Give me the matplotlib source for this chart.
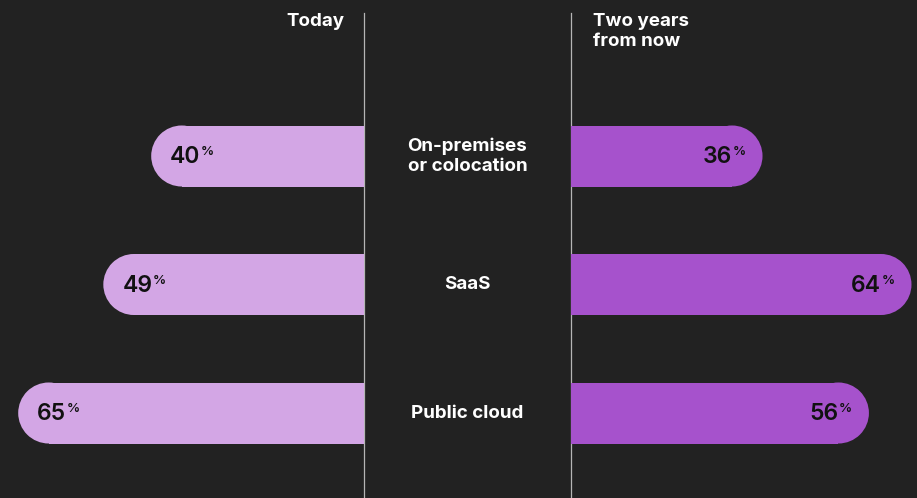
import matplotlib

matplotlib.use("Agg")
import matplotlib.pyplot as plt
from matplotlib.patches import Circle, Rectangle

categories = ["On-premises\nor colocation", "SaaS", "Public cloud"]
today = [40, 49, 65]
two_years = [36, 64, 56]
head_left = "Today"
head_right = "Two years\nfrom now"

BG = "#222222"
C_LEFT = "#d3a6e5"
C_RIGHT = "#a652cc"
FONT = ["Inter", "DejaVu Sans"]

W, H = 917, 498
LEFT_X, RIGHT_X = 364, 571
PX_PER_PCT = 5.32
ROW0, ROW_STEP = 156, 128.5
BAR_H = 61

fig = plt.figure(figsize=(W / 100, H / 100), dpi=100, facecolor=BG)
ax = fig.add_axes([0, 0, 1, 1])
ax.set_facecolor(BG)
ax.set_xlim(0, W)
ax.set_ylim(H, 0)
ax.axis("off")

ax.plot([LEFT_X, LEFT_X], [13, H], color="#b5b5b5", lw=0.9, zorder=1)
ax.plot([RIGHT_X, RIGHT_X], [13, H], color="#b5b5b5", lw=0.9, zorder=1)

ax.text(LEFT_X - 20, 13, head_left, ha="right", va="top", color="white",
        fontsize=13.5, fontweight="bold", family=FONT)
ax.text(RIGHT_X + 22, 13, head_right, ha="left", va="top", color="white",
        fontsize=13.5, fontweight="bold", family=FONT, linespacing=1.2)


def pct_label(x, cy, value, side):
    style = dict(color="#111111", fontweight="semibold", family=FONT, zorder=4)
    if side == "left":
        num = ax.text(x, cy + 1, str(value), ha="left", va="center", fontsize=16.5, **style)
        ax.annotate("%", xy=(1, 0), xycoords=(num, "data"), xytext=(0.3, cy - 4),
                    textcoords=("offset points", "data"), ha="left", va="center",
                    fontsize=9.5, **style)
    else:
        pct = ax.text(x, cy - 4, "%", ha="right", va="center", fontsize=9.5, **style)
        ax.annotate(str(value), xy=(0, cy + 1), xycoords=(pct, "data"), xytext=(-0.3, 0),
                    textcoords="offset points", ha="right", va="center",
                    fontsize=16.5, **style)


r = BAR_H / 2
for i, (cat, a, b) in enumerate(zip(categories, today, two_years)):
    cy = ROW0 + i * ROW_STEP
    # left bar (today), rounded on its outer end
    end_l = LEFT_X - a * PX_PER_PCT
    ax.add_patch(Rectangle((end_l + r, cy - r), LEFT_X - end_l - r, BAR_H,
                           facecolor=C_LEFT, edgecolor="none", zorder=2))
    ax.add_patch(Circle((end_l + r, cy), r, facecolor=C_LEFT, edgecolor="none", zorder=2))
    pct_label(end_l + 19, cy, a, "left")

    # right bar (two years from now)
    end_r = RIGHT_X + b * PX_PER_PCT
    ax.add_patch(Rectangle((RIGHT_X, cy - r), end_r - r - RIGHT_X, BAR_H,
                           facecolor=C_RIGHT, edgecolor="none", zorder=2))
    ax.add_patch(Circle((end_r - r, cy), r, facecolor=C_RIGHT, edgecolor="none", zorder=2))
    pct_label(end_r - 17, cy, b, "right")

    ax.text((LEFT_X + RIGHT_X) / 2, cy, cat, ha="center", va="center", color="white",
            fontsize=13.5, fontweight="bold", family=FONT, linespacing=1.2)

fig.savefig("out.png", dpi=100, facecolor=BG)
